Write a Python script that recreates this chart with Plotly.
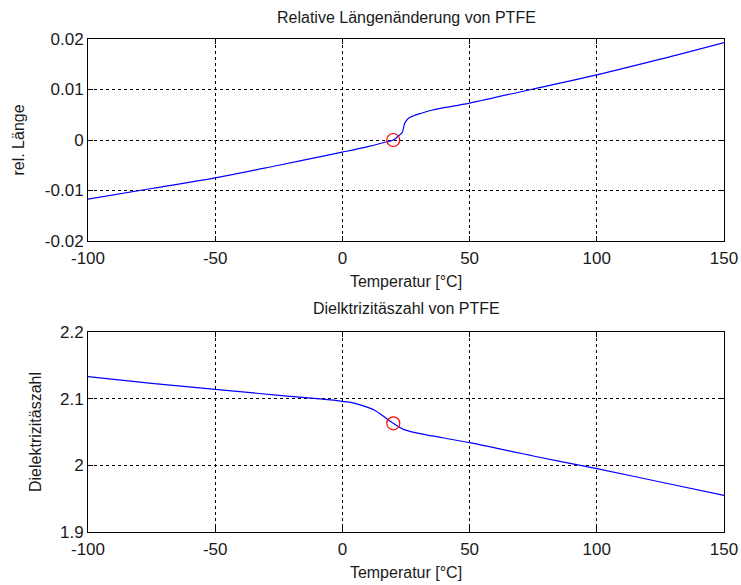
import plotly.graph_objects as go

# Data
temp_len = [-100, -75, -50, -25, 0, 10, 18, 20, 22, 23.5, 24.5, 26, 28, 31, 35, 40, 50, 75, 100, 125, 150]
rel_len = [-0.0117, -0.0096, -0.0075, -0.0050, -0.0024, -0.0013, -0.0003, 0.0, 0.0008, 0.0015, 0.0033,
           0.0043, 0.0048, 0.0053, 0.0059, 0.0064, 0.0073, 0.0101, 0.0129, 0.0160, 0.0193]
temp_eps = [-100, -75, -50, -25, -10, 0, 5, 10, 13, 16, 20, 24, 30, 40, 50, 75, 100, 125, 150]
eps = [2.133, 2.123, 2.114, 2.105, 2.1, 2.096, 2.093, 2.087, 2.082, 2.074, 2.063, 2.054, 2.048,
       2.041, 2.034, 2.014, 1.995, 1.975, 1.955]
ref_temp = [20]
ref_len = [0.0]
ref_eps = [2.063]

x_ticks = [-100, -50, 0, 50, 100, 150]
x_labels = ["-100", "-50", "0", "50", "100", "150"]
y1_ticks = [-0.02, -0.01, 0, 0.01, 0.02]
y1_labels = ["-0.02", "-0.01", "0", "0.01", "0.02"]
y2_ticks = [1.9, 2.0, 2.1, 2.2]
y2_labels = ["1.9", "2", "2.1", "2.2"]

FONT = "Liberation Sans, Arial, sans-serif"
TXT = "#1a1a1a"

fig = go.Figure()
fig.add_trace(go.Scatter(x=temp_len, y=rel_len, mode="lines", line=dict(color="#0000ff", width=1.2),
                         xaxis="x", yaxis="y", showlegend=False, line_shape="spline"))
fig.add_trace(go.Scatter(x=ref_temp, y=ref_len, mode="markers",
                         marker=dict(symbol="circle-open", color="#ff0000", size=13, line=dict(width=1.2)),
                         xaxis="x", yaxis="y", showlegend=False))
fig.add_trace(go.Scatter(x=temp_eps, y=eps, mode="lines", line=dict(color="#0000ff", width=1.2),
                         xaxis="x2", yaxis="y2", showlegend=False, line_shape="spline"))
fig.add_trace(go.Scatter(x=ref_temp, y=ref_eps, mode="markers",
                         marker=dict(symbol="circle-open", color="#ff0000", size=13, line=dict(width=1.2)),
                         xaxis="x2", yaxis="y2", showlegend=False))

axis_common = dict(showline=True, linecolor="black", linewidth=1, mirror="allticks",
                   ticks="inside", ticklen=5, tickcolor="black", automargin=False,
                   showgrid=True, gridcolor="black", gridwidth=1, griddash="3px,3px",
                   zeroline=False, tickfont=dict(family=FONT, size=17, color=TXT))

top_dom = [(532 - 241) / 493, 1.0]
bot_dom = [0.0, (532 - 332) / 493]
TF = dict(size=16, family=FONT, color=TXT)

fig.update_layout(
    width=741, height=585,
    margin=dict(l=88, r=17, t=39, b=53),
    paper_bgcolor="white", plot_bgcolor="white",
    font=dict(family=FONT, color=TXT),
    xaxis=dict(axis_common, range=[-100, 150], tickvals=x_ticks, ticktext=x_labels, domain=[0, 1], anchor="y",
               ticklabelstandoff=2,
               title=dict(text="Temperatur [°C]", font=TF, standoff=8)),
    yaxis=dict(axis_common, range=[-0.02, 0.02], tickvals=y1_ticks, ticktext=y1_labels, domain=top_dom,
               anchor="x", title=dict(text="rel. Länge", font=TF, standoff=16)),
    xaxis2=dict(axis_common, range=[-100, 150], tickvals=x_ticks, ticktext=x_labels, domain=[0, 1], anchor="y2",
                ticklabelstandoff=2,
                title=dict(text="Temperatur [°C]", font=TF, standoff=8)),
    yaxis2=dict(axis_common, range=[1.9, 2.2], tickvals=y2_ticks, ticktext=y2_labels, domain=bot_dom,
                anchor="x2", title=dict(text="Dielektrizitäszahl", font=TF, standoff=14)),
    annotations=[
        dict(text="Relative Längenänderung von PTFE", x=0.5, y=1.0, xref="paper", yref="paper",
             xanchor="center", yanchor="bottom", yshift=11, showarrow=False, font=TF),
        dict(text="Dielktrizitäszahl von PTFE", x=0.5, y=bot_dom[1], xref="paper", yref="paper",
             xanchor="center", yanchor="bottom", yshift=13, showarrow=False, font=TF),
    ],
)

fig.write_html("out.html")
